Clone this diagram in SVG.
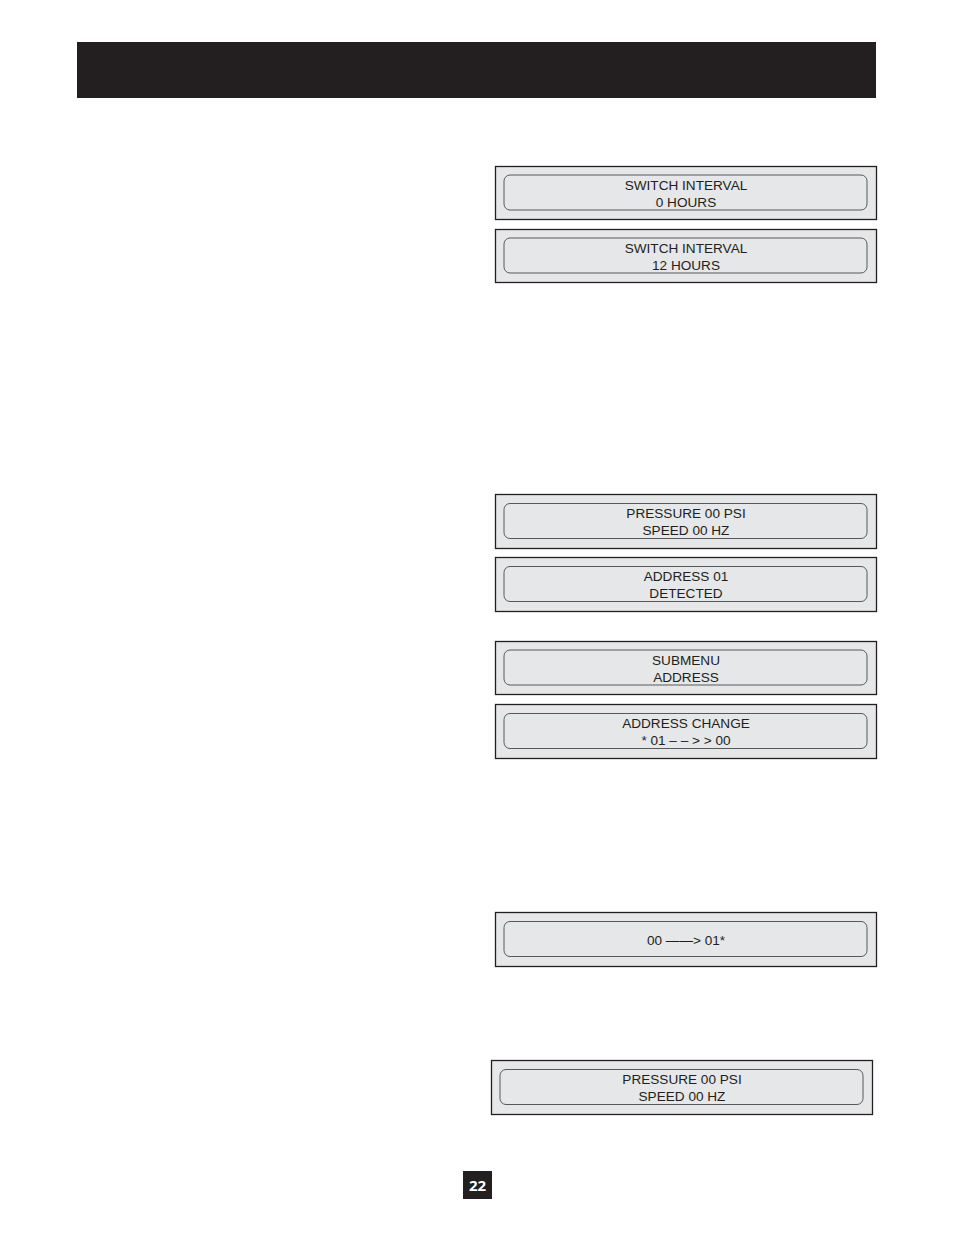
<svg xmlns="http://www.w3.org/2000/svg" width="954" height="1235" viewBox="0 0 954 1235">
<style>
.outer{fill:#e6e7e8;stroke:#231f20;stroke-width:1.3}
.inner{fill:#e6e7e8;stroke:#58595b;stroke-width:1}
.t{font-family:"Liberation Sans",Arial,sans-serif;font-size:13.6px;fill:#231f20;text-anchor:middle}
</style>
<rect width="954" height="1235" fill="#ffffff"/>
<rect id="header" x="77" y="42" width="799" height="56" fill="#231f20"/>
<g id="n1"><rect class="outer" x="495.5" y="166.5" width="381" height="53"/><rect class="inner" x="504" y="175" width="363" height="35" rx="6"/><text class="t" x="686" y="190">SWITCH INTERVAL</text><text class="t" x="686" y="207">0 HOURS</text></g>
<g id="n2"><rect class="outer" x="495.5" y="229.5" width="381" height="53"/><rect class="inner" x="504" y="238" width="363" height="35" rx="6"/><text class="t" x="686" y="253">SWITCH INTERVAL</text><text class="t" x="686" y="270">12 HOURS</text></g>
<g id="n3"><rect class="outer" x="495.5" y="494.5" width="381" height="54"/><rect class="inner" x="504" y="503.5" width="363" height="35" rx="6"/><text class="t" x="686" y="518">PRESSURE 00 PSI</text><text class="t" x="686" y="535">SPEED 00 HZ</text></g>
<g id="n4"><rect class="outer" x="495.5" y="557.5" width="381" height="54"/><rect class="inner" x="504" y="566.5" width="363" height="35" rx="6"/><text class="t" x="686" y="581">ADDRESS 01</text><text class="t" x="686" y="598">DETECTED</text></g>
<g id="n5"><rect class="outer" x="495.5" y="641.5" width="381" height="53"/><rect class="inner" x="504" y="650" width="363" height="35" rx="6"/><text class="t" x="686" y="665">SUBMENU</text><text class="t" x="686" y="682">ADDRESS</text></g>
<g id="n6"><rect class="outer" x="495.5" y="704.5" width="381" height="54"/><rect class="inner" x="504" y="713.5" width="363" height="35" rx="6"/><text class="t" x="686" y="728">ADDRESS CHANGE</text><text class="t" x="686" y="745">* 01 – – &gt; &gt; 00</text></g>
<g id="n7"><rect class="outer" x="495.5" y="912.5" width="381" height="54"/><rect class="inner" x="504" y="921.5" width="363" height="35" rx="6"/><text class="t" x="686" y="945">00 ——&gt; 01*</text></g>
<g id="n8"><rect class="outer" x="491.5" y="1060.5" width="381" height="54"/><rect class="inner" x="500" y="1069.5" width="363" height="35" rx="6"/><text class="t" x="682" y="1084">PRESSURE 00 PSI</text><text class="t" x="682" y="1101">SPEED 00 HZ</text></g>
<g id="page"><rect x="463" y="1171" width="29" height="28" fill="#231f20"/><text x="477.5" y="1190.5" font-family="'Open Sans','Liberation Sans',sans-serif" font-size="15" font-weight="bold" fill="#ffffff" text-anchor="middle">22</text></g>
</svg>
